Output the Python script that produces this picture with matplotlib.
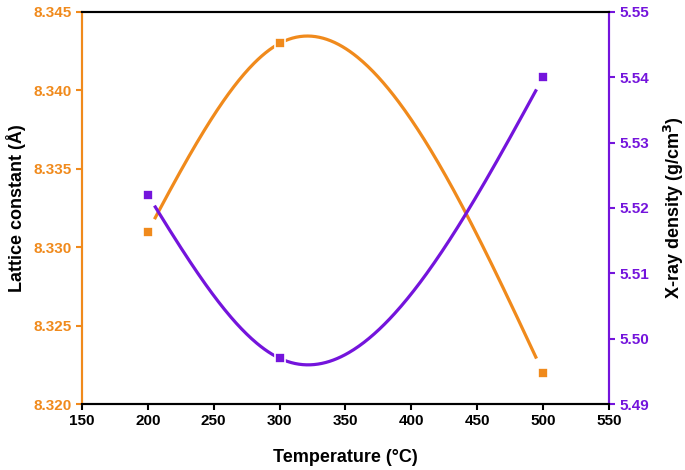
import numpy as np
import matplotlib
matplotlib.use("Agg")
import matplotlib.pyplot as plt

temperature = [200, 300, 500]
lattice = [8.331, 8.343, 8.322]
density = [5.522, 5.497, 5.540]

orange = "#F08A1C"
purple = "#7414DC"

plt.rcParams["font.family"] = ["Liberation Sans", "DejaVu Sans"]
plt.rcParams["font.weight"] = "bold"


def natural_spline(x, y, xs):
    # natural cubic spline through the data points (like Origin's spline line)
    x = np.asarray(x, float)
    y = np.asarray(y, float)
    n = len(x)
    h = np.diff(x)
    A = np.zeros((n, n))
    r = np.zeros(n)
    A[0, 0] = A[-1, -1] = 1
    for i in range(1, n - 1):
        A[i, i - 1] = h[i - 1]
        A[i, i] = 2 * (h[i - 1] + h[i])
        A[i, i + 1] = h[i]
        r[i] = 6 * ((y[i + 1] - y[i]) / h[i] - (y[i] - y[i - 1]) / h[i - 1])
    M = np.linalg.solve(A, r)
    out = np.empty_like(xs)
    for k, xv in enumerate(xs):
        i = min(max(np.searchsorted(x, xv) - 1, 0), n - 2)
        t0 = x[i + 1] - xv
        t1 = xv - x[i]
        out[k] = (M[i] * t0**3 + M[i + 1] * t1**3) / (6 * h[i]) \
            + (y[i] / h[i] - M[i] * h[i] / 6) * t0 \
            + (y[i + 1] / h[i] - M[i + 1] * h[i] / 6) * t1
    return out


xs = np.linspace(205, 495, 300)

fig = plt.figure(figsize=(6.85, 4.70), dpi=100)
ax = fig.add_axes([0.1197, 0.1404, 0.7693, 0.8341])
ax2 = ax.twinx()

ax.plot(xs, natural_spline(temperature, lattice, xs), color=orange, lw=2.3, solid_capstyle="butt", zorder=2)
ax.plot(temperature, lattice, "s", color=orange, ms=7, mec="white", mew=1.2, zorder=3)
ax2.plot(xs, natural_spline(temperature, density, xs), color=purple, lw=2.3, solid_capstyle="butt", zorder=2)
ax2.plot(temperature, density, "s", color=purple, ms=7, mec="white", mew=1.2, zorder=3)

ax.set_xlim(150, 550)
ax.set_ylim(8.320, 8.345)
ax2.set_ylim(5.49, 5.55)
ax.set_xticks(np.arange(150, 551, 50))
ax.set_yticks(np.arange(8.320, 8.3451, 0.005))
ax2.set_yticks(np.arange(5.49, 5.5501, 0.01))
ax.set_yticklabels([f"{v:.3f}" for v in np.arange(8.320, 8.3451, 0.005)])
ax2.set_yticklabels([f"{v:.2f}" for v in np.arange(5.49, 5.5501, 0.01)])

for a in (ax, ax2):
    for s in a.spines.values():
        s.set_linewidth(1.5)
    a.spines["top"].set_color("black")
    a.spines["bottom"].set_color("black")
    a.spines["left"].set_color(orange)
    a.spines["right"].set_color(purple)

ax.tick_params(axis="x", direction="out", length=4.5, width=1.5, labelsize=11, colors="black", pad=3)
ax.tick_params(axis="y", direction="out", length=4.5, width=1.5, labelsize=11, colors=orange, pad=3)
ax2.tick_params(axis="y", direction="out", length=4.5, width=1.5, labelsize=11, colors=purple, pad=3)

ax.set_xlabel("Temperature (\u00b0C)", fontsize=13, fontweight="bold", labelpad=15)
ax.set_ylabel("Lattice constant (Å)", fontsize=13, fontweight="bold", labelpad=5)
ax2.set_ylabel("X-ray density (g/cm$^\\mathbf{3}$)", fontsize=13, fontweight="bold", labelpad=9)

fig.savefig("out.png", dpi=100)
